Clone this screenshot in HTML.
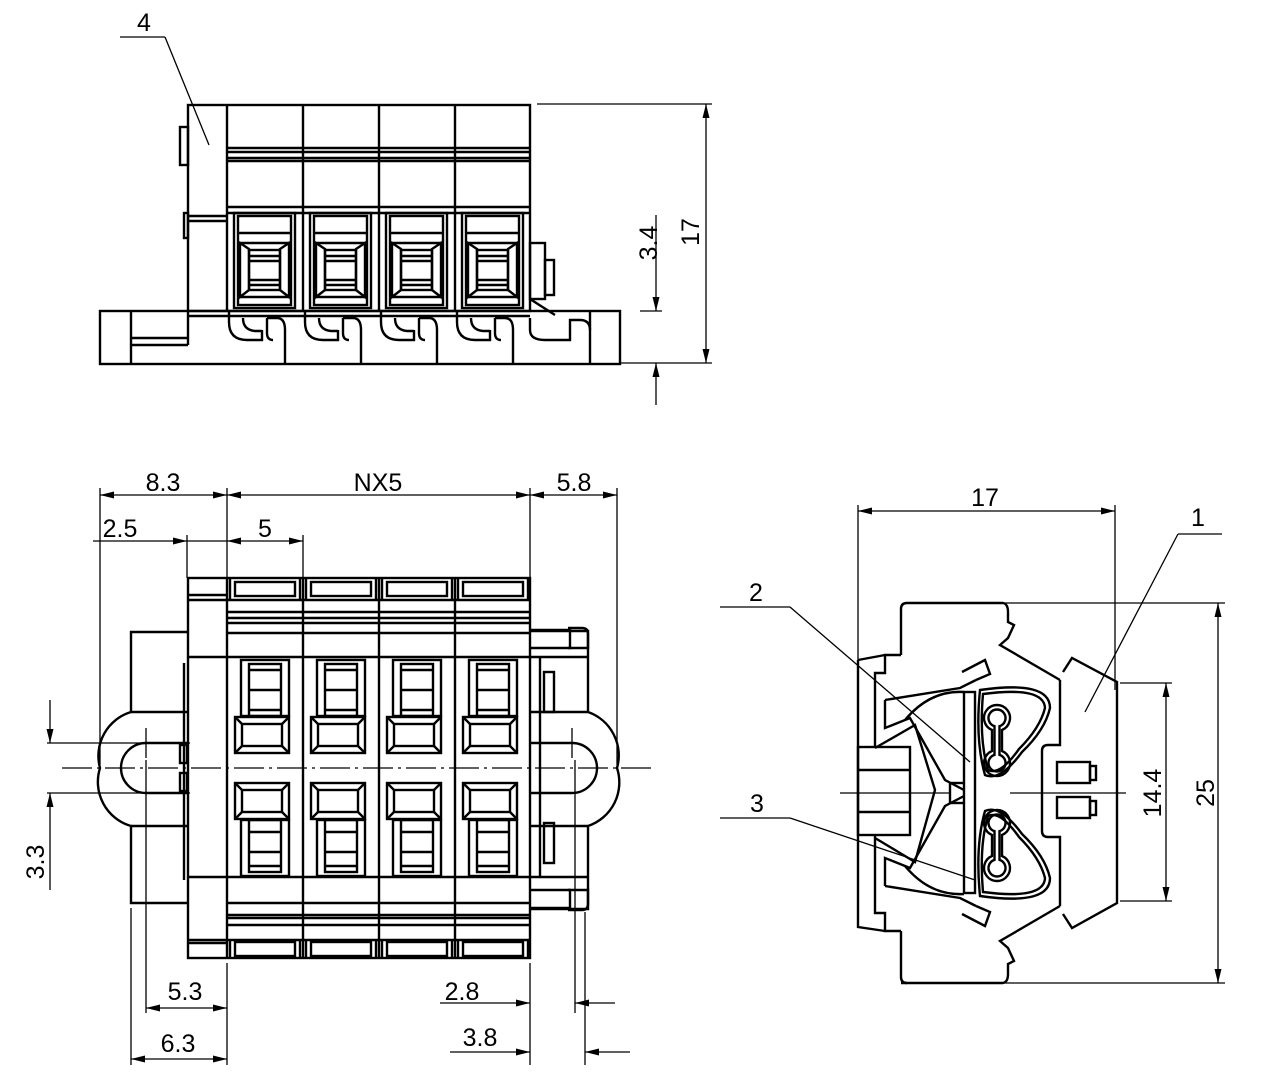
<!DOCTYPE html>
<html><head><meta charset="utf-8"><style>
html,body{margin:0;padding:0;background:#fff;}
svg{display:block;}
text{font-family:"Liberation Sans",sans-serif;font-size:25px;fill:#000;}
</style></head><body>
<svg id="s" width="1282" height="1080" viewBox="0 0 1282 1080" xmlns="http://www.w3.org/2000/svg">
<g id="obj" fill="none" stroke="#000" stroke-width="2.4"></g>
<g id="dim" fill="none" stroke="#000" stroke-width="1.3"></g>
<g id="arr" fill="#000" stroke="none"></g>
<text x="144" y="31" text-anchor="middle">4</text>
<text x="163" y="491" text-anchor="middle">8.3</text>
<text x="378" y="491" text-anchor="middle">NX5</text>
<text x="574" y="491" text-anchor="middle">5.8</text>
<text x="120" y="537" text-anchor="middle">2.5</text>
<text x="265" y="537" text-anchor="middle">5</text>
<text x="185" y="1000" text-anchor="middle">5.3</text>
<text x="178" y="1052" text-anchor="middle">6.3</text>
<text x="462" y="1000" text-anchor="middle">2.8</text>
<text x="480" y="1046" text-anchor="middle">3.8</text>
<text x="985" y="506" text-anchor="middle">17</text>
<text x="1198" y="526" text-anchor="middle">1</text>
<text x="756" y="601" text-anchor="middle">2</text>
<text x="757" y="812" text-anchor="middle">3</text>
<text transform="translate(657,243) rotate(-90)" text-anchor="middle">3.4</text>
<text transform="translate(699,232) rotate(-90)" text-anchor="middle">17</text>
<text transform="translate(44,862) rotate(-90)" text-anchor="middle">3.3</text>
<text transform="translate(1161,793) rotate(-90)" text-anchor="middle">14.4</text>
<text transform="translate(1214,793) rotate(-90)" text-anchor="middle">25</text>
</svg>
<script>
const NS="http://www.w3.org/2000/svg";
const O=document.getElementById('obj'),D=document.getElementById('dim'),A=document.getElementById('arr');
function el(g,t,a){const e=document.createElementNS(NS,t);for(const k in a)e.setAttribute(k,a[k]);g.appendChild(e);return e;}
function L(x1,y1,x2,y2,g){el(g||O,'line',{x1,y1,x2,y2});}
function R(x,y,w,h,g){el(g||O,'rect',{x,y,width:w,height:h});}
function P(d,g){el(g||O,'path',{d});}
function ar(x,y,dir){
 const l=14,w=3.5;let p;
 if(dir=='r')p=[[x,y],[x-l,y-w],[x-l,y+w]];
 if(dir=='l')p=[[x,y],[x+l,y-w],[x+l,y+w]];
 if(dir=='d')p=[[x,y],[x-w,y-l],[x+w,y-l]];
 if(dir=='u')p=[[x,y],[x-w,y+l],[x+w,y+l]];
 el(A,'polygon',{points:p.map(q=>q.join(',')).join(' ')});
}
const cols=[227,303,379,455];
/* ===== TOP VIEW ===== */
R(188,105,342,206);
cols.forEach(x=>L(x,105,x,311));
L(188,216,227,216);L(188,221,227,221);
R(180,127,8,38);R(184,213,4,25);
L(227,148,530,148);L(227,152,530,152);L(227,158,530,158);L(227,161,530,161);
L(227,207,530,207);L(227,213,530,213);
cols.forEach(x0=>{
 R(x0+7,213,61,95);R(x0+11,216,53,89);
 L(x0+11,233,x0+64,233);
 P(`M${x0+13},243 L${x0+22},249 L${x0+22},290 L${x0+13},297 Z`);
 P(`M${x0+62},243 L${x0+53},249 L${x0+53},290 L${x0+62},297 Z`);
 L(x0+13,243,x0+62,243);L(x0+13,297,x0+62,297);
 R(x0+22,250,31,40);
 L(x0+22,256,x0+53,256);L(x0+22,261,x0+53,261);L(x0+22,280,x0+53,280);L(x0+22,285,x0+53,285);
 P(`M${x0+2},311 L${x0+2},322 Q${x0+2},340 ${x0+20},340 L${x0+35},340 L${x0+35},330 M${x0+16},318 Q${x0+16},330 ${x0+28},331 L${x0+35},331`);
 P(`M${x0+40},318 L${x0+40},333 Q${x0+40},340 ${x0+46},340 M${x0+40},318 L${x0+50},318 Q${x0+58},318 ${x0+58},330 L${x0+58},364`);
});
R(100,311,520,53);
L(131,311,131,364);L(188,311,188,345);L(131,338,188,338);L(131,345,188,345);
L(188,316,530,316);
L(590,311,590,364);
P('M530,318 L530,330 Q530,340 545,340 L570,340 L570,320 L580,320 Q590,320 590,330');
R(530,243,15,56);R(545,260,9,35);L(530,299,555,315);
/* ===== FRONT VIEW ===== */
R(188,578,342,380);
cols.forEach(x=>L(x,578,x,958));
[600,612,618,623,633,657].forEach(y=>L(227,y,530,y));
[877,903,915,918,925,940].forEach(y=>L(227,y,530,y));
L(188,600,227,600);L(188,657,227,657);L(188,877,227,877);L(188,940,227,940);
L(188,595,227,595);L(188,943,227,943);
cols.forEach(x0=>{
 R(x0+8,582,60,14);R(x0+8,942,60,14);
 L(x0+3,578,x0+3,600);L(x0+73,578,x0+73,600);
 L(x0+3,940,x0+3,958);L(x0+73,940,x0+73,958);
 R(x0+14,660,48,56);R(x0+22,664,32,52);L(x0+22,670,x0+54,670);L(x0+22,690,x0+54,690);L(x0+22,710,x0+54,710);
 [[717,753],[783,819]].forEach(([a,b])=>{R(x0+8,a,54,b-a);R(x0+15,a+7,40,b-a-14);
  L(x0+8,a,x0+15,a+7);L(x0+62,a,x0+55,a+7);L(x0+8,b,x0+15,b-7);L(x0+62,b,x0+55,b-7);});
 R(x0+14,820,48,56);R(x0+22,820,32,52);L(x0+22,832,x0+54,832);L(x0+22,852,x0+54,852);L(x0+22,866,x0+54,866);
});
P('M187,632 L131,632 L131,712 A46,46 0 0 0 100,768 A46,46 0 0 0 131,826 L131,903 L187,903');
L(131,712,187,712);L(131,826,187,826);
P('M187,743 L146,743 A25,25 0 0 0 146,793 L187,793');
R(180,745,7,18);R(180,773,7,18);
L(184,663,184,880);
P('M530,631 L588,631 L588,712 A46,46 0 0 1 617,768 A46,46 0 0 1 588,826 L588,909 L530,909');
L(530,712,588,712);L(530,826,588,826);
P('M530,743 L572,743 A25,25 0 0 1 572,793 L530,793');
R(544,672,10,40);R(544,823,10,40);
P('M530,630 L570,630 L570,648 L530,648');P('M568,628 L582,628 Q588,628 588,634 L588,648 L568,648');
P('M530,890 L570,890 L570,908 L530,908');P('M568,890 L588,890 L588,904 Q588,910 582,910 L568,910');
L(530,657,588,657);L(530,877,588,877);L(540,657,540,877);
/* ===== SIDE VIEW ===== */
P('M901,609 Q901,603 907,603 L1003,603 Q1008,604 1008,612 L1008,622 L1014,625 L1008,638 L1000,645 L1060,680');
P('M901,983 L1003,983 Q1008,982 1008,974 L1008,964 L1014,961 L1008,948 L1000,941 L1060,906');
P('M901,609 L901,655 M901,931 L901,977 Q901,983 907,983');
P('M1063,672 L1072,658 L1117,682 L1117,903 L1072,928 L1063,914');
P('M1060,680 L1060,745 L1048,745 Q1042,745 1042,751 L1042,831 Q1042,837 1048,837 L1060,837 L1060,906');
R(1057,762,33,21);R(1090,766,6,14);R(1057,797,33,21);R(1090,801,6,14);
P('M901,655 L885,655 L885,673 L875,673 L875,747 M875,835 L875,913 L885,913 L885,931 L901,931');
P('M858,660 L885,655 M858,660 L858,927 L885,931');
R(858,747,52,88);L(858,770,910,770);L(858,812,910,812);
R(964,692,11,201);
P('M885,700 L960,688 L976,680 M885,700 L885,728 L910,718 L945,780 L964,790');
P('M885,886 L960,898 L976,906 M885,886 L885,858 L910,868 L945,806 L964,796');
P('M905,720 Q930,690 964,692 M905,866 Q930,896 964,894');
P('M875,748 L915,725 L935,790 L915,862 L875,838');
P('M962,672 L985,660 L990,674 L976,680 M962,914 L985,926 L990,912 L976,906');
P('M980,690 Q1050,680 1050,708 Q1045,730 1022,752 Q1000,782 985,775 Q975,740 980,690 Z');
P('M980,896 Q1050,906 1050,878 Q1045,856 1022,834 Q1000,804 985,811 Q975,846 980,896 Z');
P('M983,694 Q1044,686 1045,708 Q1040,728 1019,749 Q1000,776 988,770 Q979,740 983,694 Z');
P('M983,892 Q1044,900 1045,878 Q1040,858 1019,837 Q1000,810 988,816 Q979,846 983,892 Z');
function db(cx,y1,y2,r,n){const dy=Math.sqrt(r*r-n*n);
 P(`M${cx-n},${y1+dy} A${r},${r} 0 1 1 ${cx+n},${y1+dy} L${cx+n},${y2-dy} A${r},${r} 0 1 1 ${cx-n},${y2-dy} Z`);}
db(997,718,763,13,5);db(997,718,763,8.5,2.5);
db(997,823,868,13,5);db(997,823,868,8.5,2.5);
L(950,783,964,783);L(950,803,964,803);L(950,783,950,803);
/* ===== DIMENSIONS ===== */
L(537,104,712,104,D);L(620,363,712,363,D);L(640,311,662,311,D);
L(706,104,706,363,D);ar(706,104,'u');ar(706,363,'d');
L(656,215,656,311,D);ar(656,311,'d');L(656,363,656,405,D);ar(656,363,'u');
L(120,37,165,37,D);L(165,37,209,145,D);
L(100,488,100,765,D);L(227,488,227,578,D);L(530,488,530,578,D);L(617,488,617,765,D);
L(187,535,187,578,D);L(303,535,303,578,D);
L(100,495,617,495,D);ar(100,495,'l');ar(227,495,'r');ar(227,495,'l');ar(530,495,'r');ar(530,495,'l');ar(617,495,'r');
L(93,541,187,541,D);ar(187,541,'r');L(187,541,303,541,D);ar(227,541,'l');ar(303,541,'r');
L(47,743,190,743,D);L(47,793,190,793,D);
L(50,700,50,743,D);ar(50,743,'d');L(50,793,50,890,D);ar(50,793,'u');
el(D,'line',{x1:62,y1:768,x2:655,y2:768,'stroke-dasharray':'30,5,3,5'});
el(D,'line',{x1:146,y1:728,x2:146,y2:760,'stroke-dasharray':'30,5,3,5'});
el(D,'line',{x1:572,y1:728,x2:572,y2:760,'stroke-dasharray':'30,5,3,5'});
L(131,908,131,1065,D);L(146,760,146,1013,D);L(227,963,227,1065,D);
L(530,963,530,1065,D);L(575,760,575,1013,D);L(585,912,585,1065,D);
L(146,1008,227,1008,D);ar(146,1008,'l');ar(227,1008,'r');
L(131,1059,227,1059,D);ar(131,1059,'l');ar(227,1059,'r');
L(440,1003,530,1003,D);ar(530,1003,'r');L(575,1003,615,1003,D);ar(575,1003,'l');
L(450,1052,530,1052,D);ar(530,1052,'r');L(585,1052,630,1052,D);ar(585,1052,'l');
L(858,505,858,660,D);L(1115,505,1115,690,D);
L(858,511,1115,511,D);ar(858,511,'l');ar(1115,511,'r');
L(1005,603,1225,603,D);L(1005,983,1225,983,D);
L(1218,603,1218,983,D);ar(1218,603,'u');ar(1218,983,'d');
L(1120,683,1172,683,D);L(1120,901,1172,901,D);
L(1166,683,1166,901,D);ar(1166,683,'u');ar(1166,901,'d');
L(840,793,950,793,D);L(1010,793,1126,793,D);
L(1178,534,1222,534,D);L(1178,534,1085,712,D);
L(720,607,790,607,D);L(790,607,970,762,D);
L(720,818,790,818,D);L(790,818,975,880,D);
</script>
</body></html>
